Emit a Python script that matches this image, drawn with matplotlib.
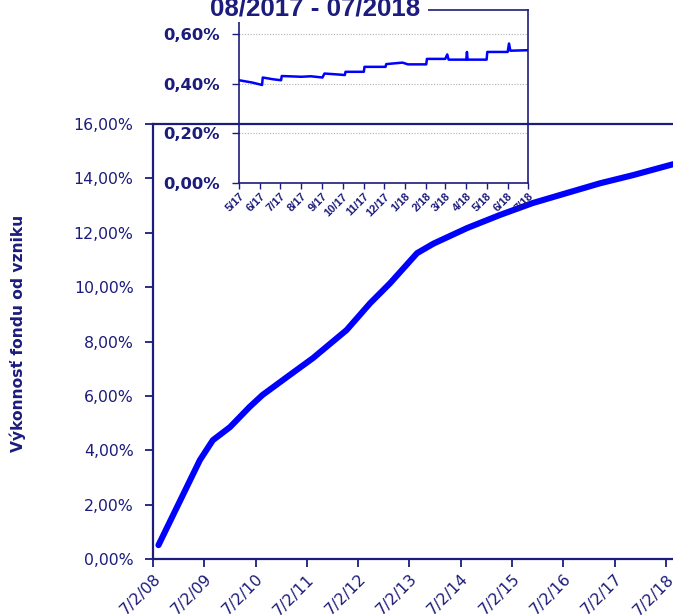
import matplotlib
matplotlib.use("Agg")
import matplotlib.pyplot as plt
from matplotlib.patches import Rectangle
import pandas as pd

# ---- main series: cumulative performance since inception (%)
main_dates = ["2008-08-10", "2009-01-20", "2009-06-01", "2009-09-01", "2010-01-01",
              "2010-05-20", "2010-08-20", "2011-02-10", "2011-08-15", "2012-04-10",
              "2012-09-25", "2013-02-15", "2013-08-25", "2013-12-20", "2014-08-15",
              "2015-04-05", "2015-11-25", "2016-07-25", "2017-03-20", "2017-11-10",
              "2018-08-21"]
main_values = [0.51, 2.24, 3.64, 4.37, 4.85,
               5.59, 6.03, 6.69, 7.39, 8.42,
               9.41, 10.15, 11.25, 11.60, 12.17,
               12.65, 13.09, 13.46, 13.82, 14.12,
               14.52]
main_tick_dates = ["2008-07-02", "2009-07-02", "2010-07-02", "2011-07-02", "2012-07-02",
                   "2013-07-02", "2014-07-02", "2015-07-02", "2016-07-02", "2017-07-02",
                   "2018-07-02"]
main_tick_labels = ["7/2/08", "7/2/09", "7/2/10", "7/2/11", "7/2/12", "7/2/13",
                    "7/2/14", "7/2/15", "7/2/16", "7/2/17", "7/2/18"]
main_yticks = [0, 2, 4, 6, 8, 10, 12, 14, 16]
main_ytick_labels = ["0,00%", "2,00%", "4,00%", "6,00%", "8,00%", "10,00%",
                     "12,00%", "14,00%", "16,00%"]

# ---- inset series: last year (%)
inset_dates = ["2017-05-01", "2017-05-20", "2017-06-04", "2017-06-05", "2017-06-20",
               "2017-07-02", "2017-07-03", "2017-08-01", "2017-08-15", "2017-09-01",
               "2017-09-04", "2017-09-25", "2017-10-04", "2017-10-05", "2017-11-01",
               "2017-11-02", "2017-12-03", "2017-12-04", "2017-12-28", "2018-01-05",
               "2018-02-01", "2018-02-02", "2018-03-01", "2018-03-04", "2018-03-06",
               "2018-04-01", "2018-04-02", "2018-04-03", "2018-05-01", "2018-05-02",
               "2018-06-01", "2018-06-03", "2018-06-05", "2018-07-01"]
inset_values = [0.414, 0.405, 0.395, 0.425, 0.418,
                0.414, 0.431, 0.428, 0.430, 0.425,
                0.441, 0.437, 0.435, 0.448, 0.448,
                0.468, 0.468, 0.479, 0.485, 0.478,
                0.478, 0.500, 0.500, 0.518, 0.497,
                0.497, 0.528, 0.497, 0.497, 0.528,
                0.528, 0.562, 0.533, 0.535]
inset_tick_dates = ["2017-05-01", "2017-06-01", "2017-07-01", "2017-08-01", "2017-09-01",
                    "2017-10-01", "2017-11-01", "2017-12-01", "2018-01-01", "2018-02-01",
                    "2018-03-01", "2018-04-01", "2018-05-01", "2018-06-01", "2018-07-01"]
inset_tick_labels = ["5/17", "6/17", "7/17", "8/17", "9/17", "10/17", "11/17", "12/17",
                     "1/18", "2/18", "3/18", "4/18", "5/18", "6/18", "7/18"]
inset_yticks = [0.0, 0.2, 0.4, 0.6]
inset_ytick_labels = ["0,00%", "0,20%", "0,40%", "0,60%"]
inset_title = "08/2017 - 07/2018"
ylabel = "Výkonnosť fondu od vzniku"

NAVY = "#1c1c7c"
BLUE = "#0000ff"
plt.rcParams['font.family'] = ['DejaVu Sans']

fig = plt.figure(figsize=(6.73, 6.15), dpi=100)

# main axes
W, H = 673, 615
ax = fig.add_axes([153 / W, (H - 559) / H, 1 - 153 / W, (559 - 124) / H])
ax.plot(pd.to_datetime(main_dates), main_values, color=BLUE, lw=4.4,
        solid_capstyle='round', solid_joinstyle='round', clip_on=False, zorder=3)
ax.set_xlim(pd.Timestamp("2008-07-02"), pd.Timestamp("2018-08-21"))
ax.set_ylim(0, 16)
ax.set_yticks(main_yticks)
ax.set_yticklabels(main_ytick_labels)
ax.set_xticks(pd.to_datetime(main_tick_dates))
ax.set_xticklabels(main_tick_labels, rotation=45, ha='right', rotation_mode='anchor')
ax.tick_params(axis='both', colors=NAVY, labelsize=11.3, length=6, width=1.3,
               direction='out')
ax.tick_params(axis='y', pad=8)
ax.tick_params(axis='x', pad=3)
for s in ['left', 'bottom', 'top']:
    ax.spines[s].set_color(NAVY)
    ax.spines[s].set_linewidth(1.6)
ax.spines['right'].set_visible(False)

fig.text(18 / W, (H - 333) / H, ylabel, rotation=90, ha='center', va='center',
         color=NAVY, fontsize=11.2, fontweight='bold')

# inset axes
ins = fig.add_axes([239 / W, (H - 183) / H, (528 - 239) / W, (183 - 10) / H])
ins.set_facecolor('none')
ins.plot(pd.to_datetime(inset_dates), inset_values, color=BLUE, lw=1.8, zorder=3)
ins.set_xlim(pd.Timestamp("2017-05-01"), pd.Timestamp("2018-07-01"))
ins.set_ylim(0, 0.697)
ins.set_yticks(inset_yticks)
ins.set_yticklabels(inset_ytick_labels)
ins.set_xticks(pd.to_datetime(inset_tick_dates))
ins.set_xticklabels(inset_tick_labels, rotation=45, ha='right', rotation_mode='anchor')
ins.tick_params(axis='y', colors=NAVY, labelsize=11.8, length=5, width=1.0, pad=9)
ins.tick_params(axis='x', colors=NAVY, labelsize=8, length=4, width=1.0, pad=2)
for lbl in ins.get_yticklabels() + ins.get_xticklabels():
    lbl.set_fontweight('bold')
for lbl in ins.get_xticklabels():
    lbl.set_family(['Liberation Sans'])
ins.grid(axis='y', color='#b0b0b0', linestyle=(0, (1, 1.5)), linewidth=0.8)
for s in ins.spines.values():
    s.set_color(NAVY)
    s.set_linewidth(1.2)

# title box
fig.patches.append(Rectangle((203 / W, (H - 22) / H), (428 - 203) / W, 22 / H,
                             transform=fig.transFigure, facecolor='white',
                             edgecolor='none', zorder=5))
fig.text(315 / W, (H - 15) / H, inset_title, ha='center', va='baseline',
         color=NAVY, fontsize=18.6, fontweight='bold', zorder=6,
         family=['Liberation Sans'])

fig.savefig("out.png", dpi=100)
